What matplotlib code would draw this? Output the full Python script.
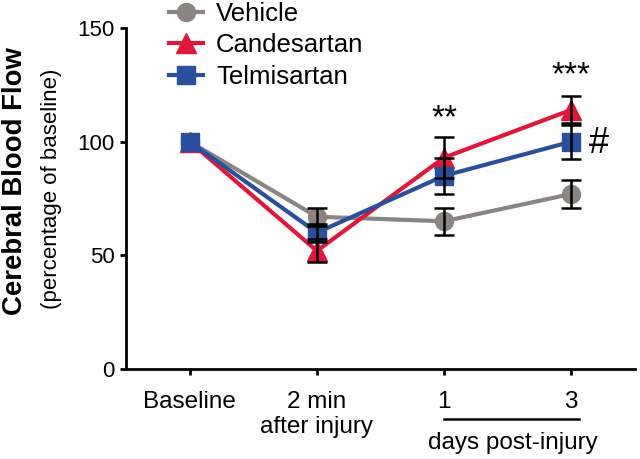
import numpy as np
import matplotlib.pyplot as plt

plt.rcParams['font.family'] = ['Liberation Sans', 'DejaVu Sans']

timepoints = ["Baseline", "2 min\nafter injury", "1", "3"]
vehicle = [100, 67, 65, 77]
vehicle_err = [0, 4, 6, 6]
candesartan = [100, 52, 93, 114]
candesartan_err = [0, 5, 9, 6]
telmisartan = [100, 60, 85, 100]
telmisartan_err = [0, 4, 8, 7.5]

x = np.arange(len(timepoints))

fig = plt.figure(figsize=(6.4, 4.59), dpi=100)
ax = fig.add_axes([0.197, 0.196, 0.795, 0.743])

series = [
    ("Vehicle", vehicle, vehicle_err, "#8a8583", "o", 13),
    ("Candesartan", candesartan, candesartan_err, "#e0173a", "^", 14),
    ("Telmisartan", telmisartan, telmisartan_err, "#2a4f9c", "s", 12.5),
]

for name, vals, err, col, mk, ms in series:
    ax.plot(x, vals, color=col, lw=3, marker=mk, ms=ms, mec=col, label=name, zorder=3)
    # baseline is normalised, no error bar there
    ax.errorbar(x[1:], vals[1:], yerr=err[1:], fmt="none", ecolor="black", elinewidth=1.8,
                capsize=7, capthick=1.8, zorder=4)

ax.set_xlim(-0.5, 3.5)
ax.set_ylim(0, 150)
ax.set_yticks([0, 50, 100, 150])
ax.set_xticks(x)
ax.set_xticklabels(timepoints, fontsize=17.5, linespacing=1.2)
ax.tick_params(axis="y", labelsize=16, width=2, length=4.5)
ax.tick_params(axis="x", width=2, length=4.5, pad=11)
for s in ["top", "right"]:
    ax.spines[s].set_visible(False)
for s in ["left", "bottom"]:
    ax.spines[s].set_linewidth(2)

ax.text(2, 110, "**", ha="center", va="center", fontsize=24)
ax.text(3, 129, "***", ha="center", va="center", fontsize=24)
ax.text(3.22, 99, "#", ha="center", va="center", fontsize=26)

# bracket under day labels
ax.plot([2, 3.06], [-22, -22], color="black", lw=1.8, clip_on=False)
ax.text(2.54, -32.5, "days post-injury", ha="center", va="center", fontsize=17.5)

fig.text(0.023, 0.606, "Cerebral Blood Flow", rotation=90, ha="center", va="center",
         fontsize=19.8, fontweight="bold")
fig.text(0.08, 0.588, "(percentage of baseline)", rotation=90, ha="center", va="center",
         fontsize=16)

ax.legend(loc="upper left", bbox_to_anchor=(0.06, 1.115), frameon=False, fontsize=18.5,
          handlelength=1.32, handletextpad=0.5, labelspacing=0.3, borderpad=0)

fig.savefig("out.png", dpi=100)
